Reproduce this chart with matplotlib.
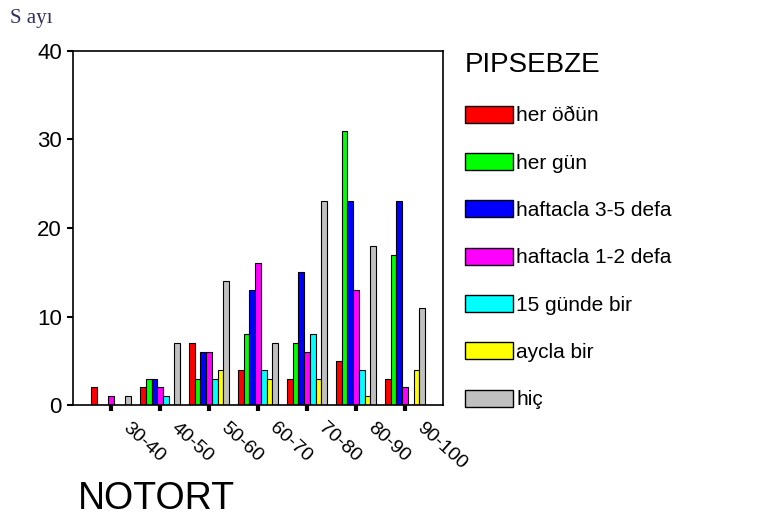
import matplotlib.pyplot as plt
import numpy as np
from matplotlib.transforms import ScaledTranslation

plt.rcParams["font.family"] = ["Liberation Sans", "DejaVu Sans"]

categories = ["30-40", "40-50", "50-60", "60-70", "70-80", "80-90", "90-100"]
series_names = [
    "her öðün",
    "her gün",
    "haftacla 3-5 defa",
    "haftacla 1-2 defa",
    "15 günde bir",
    "aycla bir",
    "hiç",
]
her_ogun = [2, 2, 7, 4, 3, 5, 3]
her_gun = [0, 3, 3, 8, 7, 31, 17]
hafta_3_5 = [0, 3, 6, 13, 15, 23, 23]
hafta_1_2 = [1, 2, 6, 16, 6, 13, 2]
gun_15 = [0, 1, 3, 4, 8, 4, 0]
ayda_bir = [0, 0, 4, 3, 3, 1, 4]
hic = [1, 7, 14, 7, 23, 18, 11]
series = [her_ogun, her_gun, hafta_3_5, hafta_1_2, gun_15, ayda_bir, hic]
colors = ["#ff0000", "#00ff00", "#0000ff", "#ff00ff", "#00ffff", "#ffff00", "#c0c0c0"]

fig = plt.figure(figsize=(7.68, 5.2), dpi=100)
ax = fig.add_axes([0.095, 0.221, 0.482, 0.681])

x = np.arange(len(categories))
n = len(series)
w = 0.117
for i, (vals, c, name) in enumerate(zip(series, colors, series_names)):
    ax.bar(x + (i - (n - 1) / 2) * w, vals, width=w, color=c,
           edgecolor="black", linewidth=0.8, label=name)

ax.set_xlim(-0.78, len(categories) - 1 + 0.78)
ax.set_ylim(0, 40)
ax.set_yticks([0, 10, 20, 30, 40])
ax.tick_params(axis="y", direction="out", length=4, width=1.5, labelsize=16, pad=4)
ax.tick_params(axis="x", direction="out", length=4, width=3, labelsize=14)
for s in ax.spines.values():
    s.set_linewidth(1.2)

ax.set_xticks(x)
ax.set_xticklabels(categories, rotation=-42, ha="left", va="center",
                   rotation_mode="anchor")
offset = ScaledTranslation(10 / 72, -7 / 72, fig.dpi_scale_trans)
for lab in ax.get_xticklabels():
    lab.set_transform(lab.get_transform() + offset)

leg = ax.legend(loc="upper left", bbox_to_anchor=(0.592, 0.92),
                bbox_transform=fig.transFigure, frameon=False, borderpad=0,
                fontsize=15, title="PIPSEBZE", title_fontsize=20,
                alignment="left", handlelength=2.3, handleheight=0.9,
                handletextpad=0.15, labelspacing=1.32)
for p in leg.get_patches():
    p.set_linewidth(1.0)

fig.text(0.013, 0.955, "S ayı", family="Liberation Serif", fontsize=15,
         color="#303060")
fig.text(0.102, 0.022, "NOTORT", fontsize=27)

plt.savefig("out.png", dpi=100)
plt.close()
